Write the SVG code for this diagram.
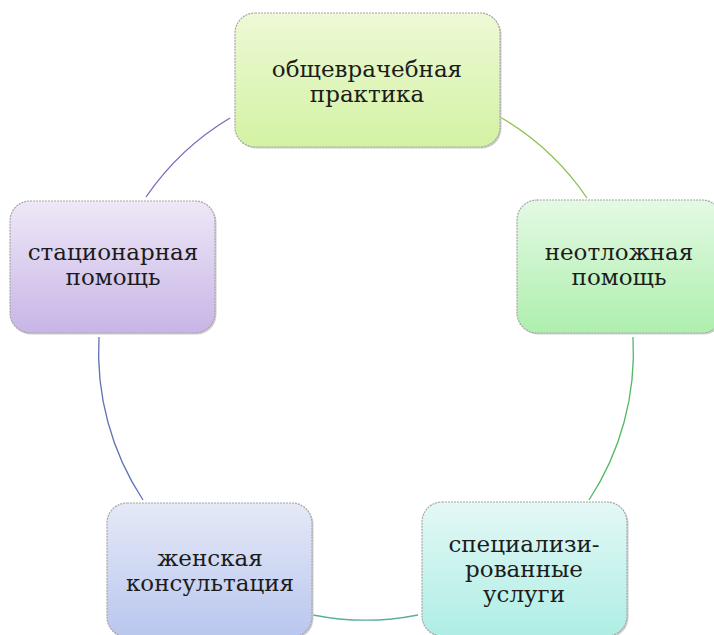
<svg xmlns="http://www.w3.org/2000/svg" width="714" height="635" viewBox="0 0 714 635">
  <defs>
    <linearGradient id="gTop" x1="0" y1="0" x2="0" y2="1">
      <stop offset="0" stop-color="#eef9d6"/>
      <stop offset="1" stop-color="#d3f2a3"/>
    </linearGradient>
    <linearGradient id="gRight" x1="0" y1="0" x2="0" y2="1">
      <stop offset="0" stop-color="#e4f9e4"/>
      <stop offset="1" stop-color="#aeefae"/>
    </linearGradient>
    <linearGradient id="gBR" x1="0" y1="0" x2="0" y2="1">
      <stop offset="0" stop-color="#e4f8f6"/>
      <stop offset="1" stop-color="#aeeee4"/>
    </linearGradient>
    <linearGradient id="gBL" x1="0" y1="0" x2="0" y2="1">
      <stop offset="0" stop-color="#e5e9f7"/>
      <stop offset="1" stop-color="#b9c6ee"/>
    </linearGradient>
    <linearGradient id="gLeft" x1="0" y1="0" x2="0" y2="1">
      <stop offset="0" stop-color="#eee8f7"/>
      <stop offset="1" stop-color="#c8b5e6"/>
    </linearGradient>
  </defs>
  <style>
    .box { stroke: #a6a6a6; stroke-width: 1.2; stroke-dasharray: 2 1; }
    .shadow { fill: #cfcfcf; }
    .lbl { font-family: "DejaVu Serif", serif; font-size: 23px; fill: #1c1c1c; text-anchor: middle; }
    .arc { fill: none; stroke-width: 1.3; }
  </style>
  <rect width="714" height="635" fill="#ffffff"/>

  <g id="connectors">
    <path class="arc" stroke="#8fbf4e" d="M500,117 A269,269 0 0 1 587,198"/>
    <path class="arc" stroke="#55b866" d="M633,337 A269,269 0 0 1 589,500"/>
    <path class="arc" stroke="#5aae9f" d="M418,615 A269,269 0 0 1 313,615"/>
    <path class="arc" stroke="#5f73b6" d="M143,500 A269,269 0 0 1 99,337"/>
    <path class="arc" stroke="#8266bb" d="M146,197 A269,269 0 0 1 230,118"/>
  </g>

  <g id="node-top">
    <rect class="shadow" x="236.5" y="14.5" width="265" height="134" rx="20"/>
    <rect class="box" x="235" y="13" width="265" height="134" rx="20" fill="url(#gTop)"/>
    <text class="lbl" x="367" y="77">общеврачебная</text>
    <text class="lbl" x="367" y="102">практика</text>
  </g>

  <g id="node-right">
    <rect class="shadow" x="518.5" y="201.5" width="205" height="133" rx="20"/>
    <rect class="box" x="517" y="200" width="205" height="133" rx="20" fill="url(#gRight)"/>
    <text class="lbl" x="619" y="260">неотложная</text>
    <text class="lbl" x="619" y="285">помощь</text>
  </g>

  <g id="node-bottom-right">
    <rect class="shadow" x="423.5" y="503.5" width="205" height="134" rx="20"/>
    <rect class="box" x="422" y="502" width="205" height="134" rx="20" fill="url(#gBR)"/>
    <text class="lbl" x="524" y="552">специализи-</text>
    <text class="lbl" x="524" y="577">рованные</text>
    <text class="lbl" x="524" y="602">услуги</text>
  </g>

  <g id="node-bottom-left">
    <rect class="shadow" x="108.5" y="504.5" width="205" height="134" rx="20"/>
    <rect class="box" x="107" y="503" width="205" height="134" rx="20" fill="url(#gBL)"/>
    <text class="lbl" x="210" y="566">женская</text>
    <text class="lbl" x="210" y="591">консультация</text>
  </g>

  <g id="node-left">
    <rect class="shadow" x="11.5" y="202.5" width="205" height="132" rx="20"/>
    <rect class="box" x="10" y="201" width="205" height="132" rx="20" fill="url(#gLeft)"/>
    <text class="lbl" x="113" y="260">стационарная</text>
    <text class="lbl" x="113" y="285">помощь</text>
  </g>
</svg>
